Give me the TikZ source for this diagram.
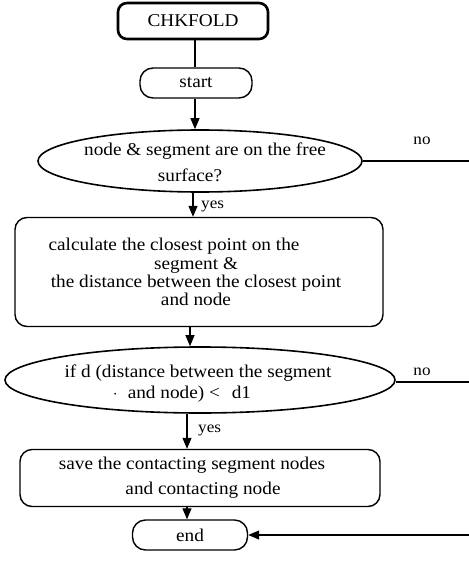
\documentclass[tikz,border=0pt]{standalone}
\usepackage{fontspec}
\setmainfont{Liberation Serif}[FakeStretch=1.07]
\usetikzlibrary{shapes.geometric,arrows.meta}
\begin{document}
\begin{tikzpicture}[x=1pt,y=-1pt,
  every node/.style={font=\fontsize{18}{18.3}\selectfont, inner sep=0pt},
  conn/.style={line width=1.1pt},
  arr/.style={conn, -{Triangle[length=11pt,width=9pt]}},
  roundbox/.style={draw, line width=1.4pt, rounded corners=12pt},
  decision/.style={draw, ellipse, line width=1.6pt},
  lbl/.style={font=\fontsize{16}{18}\selectfont}
]
\useasboundingbox (0,0) rectangle (468,572);

% nodes
\node[draw, line width=2.6pt, rounded corners=9pt, minimum width=150pt, minimum height=36pt] (chk) at (193,21) {CHKFOLD};
\node[roundbox, minimum width=112pt, minimum height=30pt, rounded corners=13pt] (start) at (196,83) {start};
\node[decision, minimum width=324pt, minimum height=62pt] (e1) at (200,161) {};
\node[align=center, font=\fontsize{18}{26}\selectfont] (e1t) at (201,162) {\hspace*{8pt}node \& segment are on the free\\\hspace*{-22pt}surface?};
\node[roundbox, minimum width=368pt, minimum height=109pt] (b2) at (199,272) {};
\node[align=center, font=\fontsize{18}{18.3}\selectfont] (b2t) at (196,272) {\hspace*{-44pt}calculate the closest point on the\\segment \&\\the distance between the closest point\\and node};
\node[decision, minimum width=390pt, minimum height=66pt] (e2) at (200,380) {};
\node[align=center, font=\fontsize{18}{21}\selectfont] (e2t) at (198,384) {if d (distance between the segment\\\hspace*{-32pt}$\cdot$\hspace{10pt}and node) <\hspace{7pt} d1};
\node[roundbox, minimum width=360pt, minimum height=57pt] (b3) at (200,478) {};
\node[align=center, font=\fontsize{18}{25}\selectfont] (b3t) at (198,478) {\hspace*{-12pt}save the contacting segment nodes\\\hspace*{10pt}and contacting node};
\node[roundbox, minimum width=115pt, minimum height=30pt, rounded corners=13pt] (end) at (190,535) {end};

% labels
\node[lbl, anchor=west] (y1) at (201,206) {yes};
\node[lbl, anchor=west] (y2) at (198,430) {yes};
\node[lbl] (n1) at (422,141) {no};
\node[lbl] (n2) at (422,372) {no};

% helper x positions
\coordinate (x1) at (195,0);
\coordinate (x2) at (193,0);
\coordinate (x3) at (190,0);
\coordinate (x4) at (187,0);
\coordinate (r1) at (471,161);
\coordinate (r2) at (471,382);
\coordinate (r3) at (471,535);

% connectors
\draw[conn] (chk.south -| x1) -- (start.north -| x1);
\draw[arr] (start.south -| x1) -- (e1.north -| x1);
\draw[arr] (e1.south -| x2) -- (b2.north -| x2);
\draw[arr] (b2.south -| x3) -- (e2.north -| x3);
\draw[arr] (e2.south -| x4) -- (b3.north -| x4);
\draw[arr] (b3.south -| x4) -- (end.north -| x4);
\draw[conn] (e1.east) -- (r1) -- (r3);
\draw[conn] (e2.east |- r2) -- (r2);
\draw[arr] (r3) -- (end.east);
\end{tikzpicture}
\end{document}
